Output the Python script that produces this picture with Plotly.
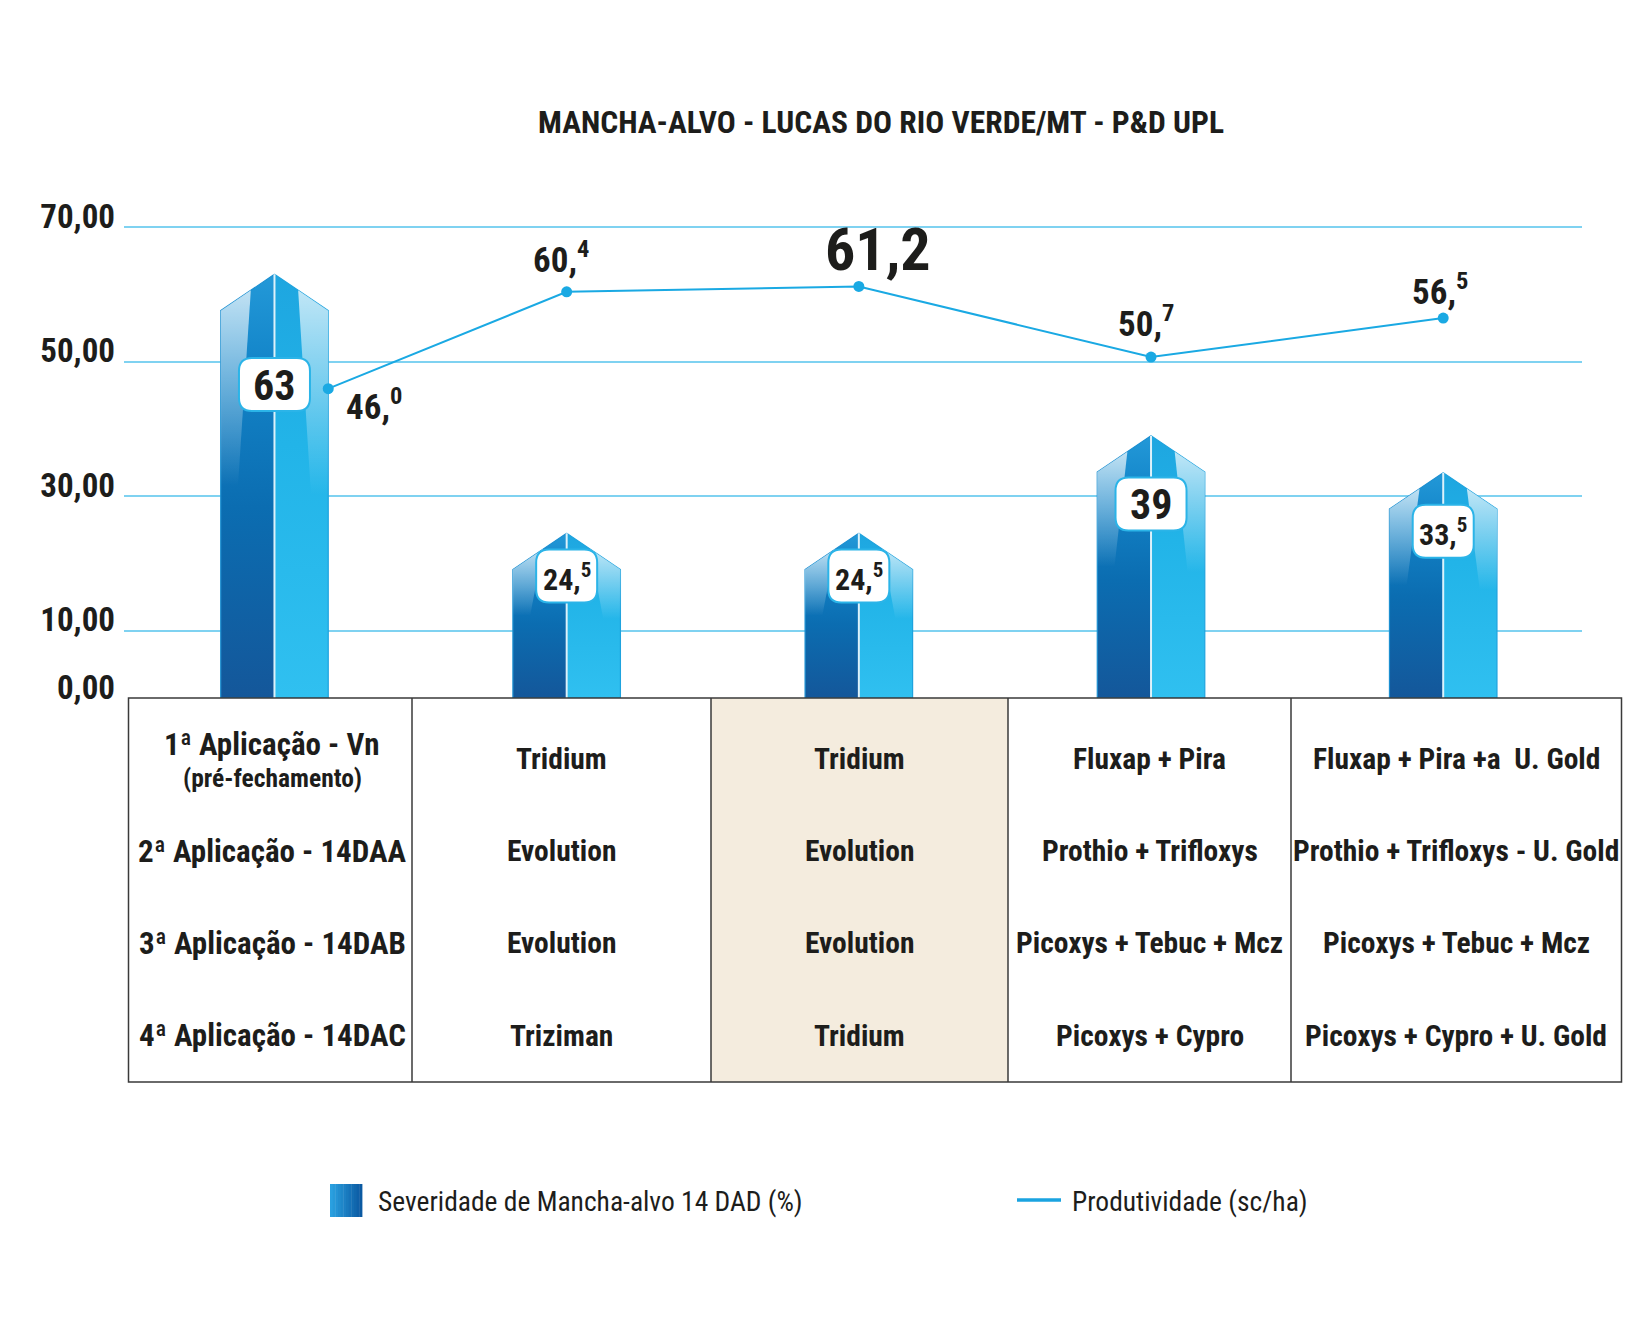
import plotly.graph_objects as go

# ---------------- data ----------------
treatment_ids = [0, 1, 2, 3, 4]
severity = [63, 24.5, 24.5, 39, 33.5]            # Severidade de Mancha-alvo 14 DAD (%)
productivity = [46.0, 60.4, 61.2, 50.7, 56.5]    # Produtividade (sc/ha)
best_productivity_index = 2

y_tick_values = [0, 10, 30, 50, 70]
y_tick_labels = ["0,00", "10,00", "30,00", "50,00", "70,00"]

application_labels = ["1ª Aplicação - Vn", "2ª Aplicação - 14DAA",
                      "3ª Aplicação - 14DAB", "4ª Aplicação - 14DAC"]
application_notes = ["(pré-fechamento)", "", "", ""]
treatment_products = [
    ["Tridium", "Evolution", "Evolution", "Triziman"],
    ["Tridium", "Evolution", "Evolution", "Tridium"],
    ["Fluxap + Pira", "Prothio + Trifloxys", "Picoxys + Tebuc + Mcz", "Picoxys + Cypro"],
    ["Fluxap + Pira +a\u00a0 U. Gold", "Prothio + Trifloxys - U. Gold",
     "Picoxys + Tebuc + Mcz", "Picoxys + Cypro + U. Gold"],
]
highlight_treatment = 1   # index in treatment_products (beige column)

title_text = "MANCHA-ALVO - LUCAS DO RIO VERDE/MT - P&D UPL"
legend_severity = "Severidade de Mancha-alvo 14 DAD (%)"
legend_productivity = "Produtividade (sc/ha)"

# ---------------- style / layout ----------------
OFF = 8                         # page body margin of the html page
W, H = 1652 - 2 * OFF, 1338 - 2 * OFF
# plot area in reference page pixels
RL, RR, RT, RB = 124, 1582, 199, 698
PL, PR, PT, PB = RL - OFF, RR - OFF, RT - OFF, RB - OFF
FONT = "Roboto Condensed, Liberation Sans Narrow, Roboto, sans-serif"
INK = "#1d1d1b"
GRID = "#7fd2f1"
CYAN = "#1aa9e3"

BAR_HALF = 0.184      # half bar width (x units)
ROOF = 5.4            # roof height (y units)
BOX_POS = 0.74        # label box at fraction of bar height
Y_MAX = 74.2


def font(size, bold=True, color=INK):
    return dict(family=FONT, size=size, color=color,
                weight="bold" if bold else "normal")


def px_x(px):   # reference page x -> paper
    return (px - OFF - PL) / (PR - PL)


def px_y(py):   # reference page y -> paper
    return (PB - (py - OFF)) / (PB - PT)


def fmt_sup(v):
    ip, dp = f"{v:.1f}".split(".")
    return f"{ip},<sup>{dp}</sup>"


def fmt_plain(v):
    ip, dp = f"{v:.1f}".split(".")
    return f"{ip},{dp}"


fig = go.Figure()

# ---------------- bars (pencil shaped, gradient) ----------------
for i, v in zip(treatment_ids, severity):
    hw = BAR_HALF
    xl, xr = i - hw, i + hw
    sh = v - ROOF
    fig.add_trace(go.Scatter(
        x=[xl, xl, i, i, xl], y=[0, sh, v, 0, 0], mode="lines", fill="toself",
        line=dict(color="#1b8fd1", width=1.2),
        fillgradient=dict(type="vertical", colorscale=[
            [0, "#14579a"], [0.45, "#0b6db1"], [0.8, "#1486ca"], [1, "#2399d8"]]),
        hoverinfo="skip", showlegend=False))
    fig.add_trace(go.Scatter(
        x=[i, i, xr, xr, i], y=[0, v, sh, 0, 0], mode="lines", fill="toself",
        line=dict(color="#1ea3de", width=1.2),
        fillgradient=dict(type="vertical", colorscale=[
            [0, "#30c0f0"], [0.6, "#22b4e8"], [1, "#1ea6e0"]]),
        hoverinfo="skip", showlegend=False))
    g1 = 0.5 * v
    fig.add_trace(go.Scatter(
        x=[xl, xl + 0.56 * hw, xl + 0.32 * hw, xl, xl],
        y=[sh, v - 0.44 * ROOF, g1, g1, sh], mode="lines", fill="toself",
        line=dict(width=0),
        fillgradient=dict(type="vertical", colorscale=[
            [0, "rgba(255,255,255,0)"], [1, "rgba(255,255,255,0.72)"]]),
        hoverinfo="skip", showlegend=False))
    g2 = 0.48 * v
    fig.add_trace(go.Scatter(
        x=[i + 0.44 * hw, xr, xr, i + 0.68 * hw, i + 0.44 * hw],
        y=[v - 0.44 * ROOF, sh, g2, g2, v - 0.44 * ROOF], mode="lines", fill="toself",
        line=dict(width=0),
        fillgradient=dict(type="vertical", colorscale=[
            [0, "rgba(255,255,255,0)"], [1, "rgba(255,255,255,0.72)"]]),
        hoverinfo="skip", showlegend=False))

ridge_x, ridge_y = [], []
for i, v in zip(treatment_ids, severity):
    ridge_x += [i, i, None]
    ridge_y += [0, v, None]
fig.add_trace(go.Scatter(x=ridge_x, y=ridge_y, mode="lines",
                         line=dict(color="rgba(255,255,255,0.85)", width=2),
                         hoverinfo="skip", showlegend=False))

# ---------------- productivity line ----------------
line_x = list(treatment_ids)
line_x[0] = line_x[0] + BAR_HALF   # first point sits on the bar edge
fig.add_trace(go.Scatter(x=line_x, y=productivity, mode="lines+markers",
                         line=dict(color=CYAN, width=2),
                         marker=dict(color=CYAN, size=11),
                         name=legend_productivity, showlegend=False))

shapes = []
annotations = []


def rounded_path(w, h, r):
    x0, x1, y0, y1 = -w / 2, w / 2, -h / 2, h / 2
    return (f"M{x0 + r},{y0} L{x1 - r},{y0} Q{x1},{y0} {x1},{y0 + r} "
            f"L{x1},{y1 - r} Q{x1},{y1} {x1 - r},{y1} L{x0 + r},{y1} "
            f"Q{x0},{y1} {x0},{y1 - r} L{x0},{y0 + r} Q{x0},{y0} {x0 + r},{y0} Z")


for i, v in zip(treatment_ids, severity):
    integer = float(v).is_integer()
    txt = str(int(v)) if integer else fmt_sup(v)
    bw = 71 if integer else 61
    shapes.append(dict(type="path", xref="x", yref="y", xsizemode="pixel",
                       ysizemode="pixel", xanchor=i, yanchor=BOX_POS * v,
                       path=rounded_path(bw, 53, 13), fillcolor="white",
                       line=dict(color="#2bb4e8", width=2), layer="above"))
    annotations.append(dict(x=i, y=BOX_POS * v, xref="x", yref="y", text=txt,
                            showarrow=False, xanchor="center", yanchor="middle",
                            yshift=-1, font=font(42 if integer else 30)))

label_offsets = [("left", 16, -16), ("center", -6, 34), ("center", 19, 37),
                 ("center", -5, 36), ("center", -3, 29)]
for k, (x, v) in enumerate(zip(line_x, productivity)):
    big = k == best_productivity_index
    anchor, dx, dy = label_offsets[k]
    annotations.append(dict(x=x, y=v, xref="x", yref="y",
                            text=fmt_plain(v) if big else fmt_sup(v),
                            showarrow=False, xanchor=anchor, yanchor="middle",
                            xshift=dx, yshift=dy, font=font(60 if big else 35)))

# ---------------- table ----------------
col_edges = [128.5, 412, 711, 1008, 1291, 1621.5]
tab_top, tab_bot = 698, 1082
row_centers = [758.6, 851, 943, 1035.7]
hc = highlight_treatment + 1
shapes.append(dict(type="rect", xref="paper", yref="paper",
                   x0=px_x(col_edges[hc]), x1=px_x(col_edges[hc + 1]),
                   y0=px_y(tab_bot), y1=px_y(tab_top),
                   fillcolor="#f4ecde", line=dict(width=0), layer="below"))
shapes.append(dict(type="rect", xref="paper", yref="paper",
                   x0=px_x(col_edges[0]), x1=px_x(col_edges[-1]),
                   y0=px_y(tab_bot), y1=px_y(tab_top),
                   line=dict(color="#3a3a3a", width=1.5), layer="above"))
for e in col_edges[1:-1]:
    shapes.append(dict(type="line", xref="paper", yref="paper",
                       x0=px_x(e), x1=px_x(e), y0=px_y(tab_bot), y1=px_y(tab_top),
                       line=dict(color="#3a3a3a", width=1.5), layer="above"))

ROW_SIZE = 31
PROD_SIZE = 29.5
c0 = 272
for r, (lab, note) in enumerate(zip(application_labels, application_notes)):
    if note:
        annotations.append(dict(x=px_x(c0), y=px_y(744), xref="paper", yref="paper",
                                text=lab, showarrow=False, xanchor="center",
                                yanchor="middle", font=font(ROW_SIZE)))
        annotations.append(dict(x=px_x(c0), y=px_y(778), xref="paper", yref="paper",
                                text=note, showarrow=False, xanchor="center",
                                yanchor="middle", font=font(25.5)))
    else:
        annotations.append(dict(x=px_x(c0), y=px_y(row_centers[r]), xref="paper",
                                yref="paper", text=lab, showarrow=False,
                                xanchor="center", yanchor="middle",
                                font=font(ROW_SIZE)))

for c, products in enumerate(treatment_products):
    cx = (col_edges[c + 1] + col_edges[c + 2]) / 2
    for r, p in enumerate(products):
        annotations.append(dict(x=px_x(cx), y=px_y(row_centers[r]), xref="paper",
                                yref="paper", text=p, showarrow=False,
                                xanchor="center", yanchor="middle",
                                font=font(PROD_SIZE)))

# ---------------- manual legend ----------------
sw_x0, sw_x1, sw_y0, sw_y1 = 330, 362, 1184, 1217
n = 12
c_start, c_end = (0x2a, 0xa0, 0xe0), (0x0b, 0x5a, 0xa2)
for s in range(n):
    t = s / (n - 1)
    col = "rgb(%d,%d,%d)" % tuple(round(a + (b - a) * t) for a, b in zip(c_start, c_end))
    xa = sw_x0 + (sw_x1 - sw_x0) * s / n
    xb = sw_x0 + (sw_x1 - sw_x0) * (s + 1) / n
    shapes.append(dict(type="rect", xref="paper", yref="paper",
                       x0=px_x(xa), x1=px_x(xb + 0.4), y0=px_y(sw_y1), y1=px_y(sw_y0),
                       fillcolor=col, line=dict(width=0)))
annotations.append(dict(x=px_x(376), y=px_y(1201), xref="paper", yref="paper",
                        text=legend_severity, showarrow=False, xanchor="left",
                        yanchor="middle", font=font(27.5, bold=False)))
shapes.append(dict(type="line", xref="paper", yref="paper",
                   x0=px_x(1017), x1=px_x(1061), y0=px_y(1200), y1=px_y(1200),
                   line=dict(color="#1aa3e0", width=3.5)))
annotations.append(dict(x=px_x(1070), y=px_y(1201), xref="paper", yref="paper",
                        text=legend_productivity, showarrow=False, xanchor="left",
                        yanchor="middle", font=font(27.5, bold=False)))

fig.update_layout(
    width=W, height=H,
    margin=dict(l=PL, r=W - PR, t=PT, b=H - PB, autoexpand=False),
    paper_bgcolor="white", plot_bgcolor="white",
    showlegend=False, hovermode=False,
    title=dict(text=title_text, xref="container", yref="container",
               x=(881 - OFF) / W, y=1 - (122 - OFF) / H,
               xanchor="center", yanchor="middle", font=font(31.5)),
    xaxis=dict(range=[-0.515, 4.475], visible=False, automargin=False,
               showgrid=False, zeroline=False),
    yaxis=dict(range=[0, Y_MAX], tickvals=y_tick_values, ticktext=y_tick_labels,
               showgrid=True, gridcolor=GRID, gridwidth=1.5, zeroline=False,
               showline=False, ticks="", automargin=False, ticklabelstandoff=8,
               ticklabelshift=-11, tickfont=font(33)),
    shapes=shapes, annotations=annotations,
)

fig.write_html("out.html")
